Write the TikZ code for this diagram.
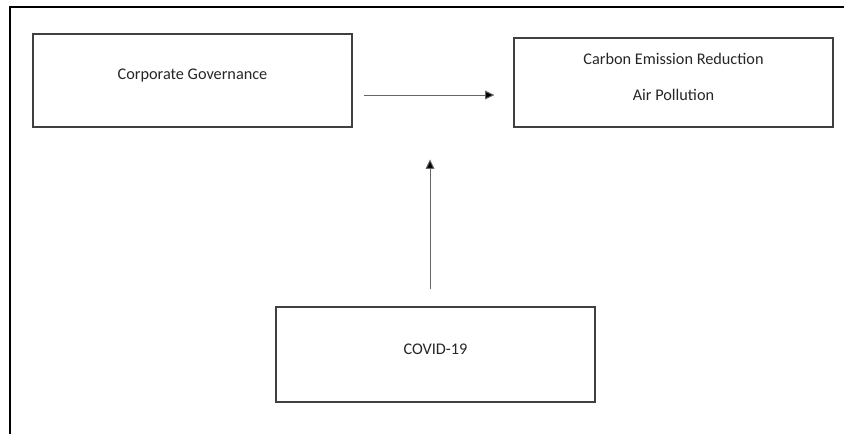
\documentclass[tikz,border=0pt]{standalone}
\usepackage{fontspec}
\setmainfont{Carlito}
\usepackage{tikz}
\usetikzlibrary{arrows.meta}
\usetikzlibrary{positioning}

\begin{document}
\begin{tikzpicture}[x=0.75pt, y=-0.75pt, font=\fontsize{12.2}{14}\selectfont, text=black!85]
\tikzstyle{every box} = [draw=black!75, line width=1.1pt, rectangle, minimum width=239pt, inner sep=0pt]
\tikzstyle{flow} = [draw=black!60, line width=0.7pt, -{Triangle[length=7pt, width=6.5pt, fill=black]}]

\useasboundingbox (0,0) rectangle (844,434);
% frame of the figure
\draw[line width=1pt] (10,434) -- (10,7) -- (844,7);

\node[every box, minimum height=70pt] (cg) at (192.5,80.5) {};
\node[every box, minimum height=67pt] (carbon) at (673.5,82.5) {};
\node[every box, minimum height=71pt] (covid) at (435.5,354.5) {};

\node (cgtext) at ([yshift=4pt]cg.center) {Corporate Governance};
\node[align=center] (carbontext) at ([yshift=4.5pt]carbon.center) {Carbon Emission Reduction\\[13pt]Air Pollution};
\node (covidtext) at ([yshift=4pt]covid.center) {COVID-19};

\draw[flow] ([xshift=8.25pt, yshift=-10.9pt]cg.east) -- ([xshift=-14.25pt, yshift=-9.4pt]carbon.west);
\draw[flow] ([xshift=-4.1pt, yshift=12.75pt]covid.north) -- ([xshift=-4.1pt, yshift=110.25pt]covid.north);

\end{tikzpicture}
\end{document}
